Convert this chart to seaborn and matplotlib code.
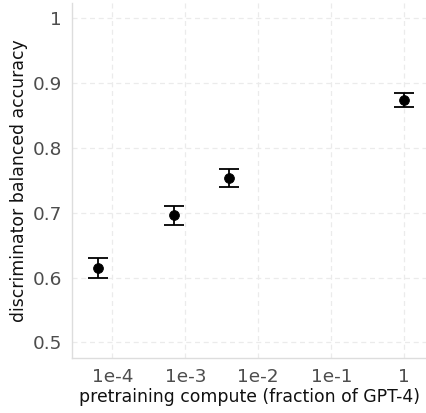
import matplotlib
matplotlib.use("Agg")
import matplotlib.pyplot as plt
import seaborn as sns
import numpy as np
import pandas as pd

compute = [6.3e-5, 7.1e-4, 4.0e-3, 1.0]
accuracy = [0.615, 0.696, 0.753, 0.874]
err_low = [0.599, 0.681, 0.739, 0.8635]
err_high = [0.630, 0.711, 0.767, 0.884]

xticks = [1e-4, 1e-3, 1e-2, 1e-1, 1]
xticklabels = ["1e-4", "1e-3", "1e-2", "1e-1", "1"]
yticks = [0.5, 0.6, 0.7, 0.8, 0.9, 1.0]
yticklabels = ["0.5", "0.6", "0.7", "0.8", "0.9", "1"]

sns.set_theme(style="whitegrid")
plt.rcParams['font.family'] = ['DejaVu Sans']

df = pd.DataFrame({"compute": compute, "accuracy": accuracy,
                   "lo": err_low, "hi": err_high})

fig = plt.figure(figsize=(4.27, 4.13), dpi=100)
ax = fig.add_axes([72.3/427, 1 - 358/413, (427 - 72.3)/427, (358 - 3.3)/413])

yerr = np.array([df["accuracy"] - df["lo"], df["hi"] - df["accuracy"]])
ax.errorbar(df["compute"], df["accuracy"], yerr=yerr, fmt="none",
            ecolor="black", elinewidth=1.3, capsize=7.5, capthick=1.3, zorder=3)
sns.scatterplot(data=df, x="compute", y="accuracy", ax=ax, color="black",
                s=50, edgecolor="black", zorder=4)

ax.set_xscale("log")
ax.set_xlim(10**-4.548, 10**0.311)
ax.set_ylim(0.476, 1.023)
ax.set_xticks(xticks)
ax.set_xticklabels(xticklabels)
ax.set_yticks(yticks)
ax.set_yticklabels(yticklabels)
ax.minorticks_off()
ax.tick_params(axis="both", labelsize=13.3, labelcolor="#4d4d4d", length=0, pad=7.5)
ax.grid(True, linestyle=(0, (4, 3)), color="#ebebeb", linewidth=0.9)
ax.set_xlabel("pretraining compute (fraction of GPT-4)", fontsize=12.4, color="#111111", labelpad=1)
ax.set_ylabel("discriminator balanced accuracy", fontsize=12.4, color="#111111", labelpad=3)
for side in ["top", "right"]:
    ax.spines[side].set_visible(False)
for side in ["left", "bottom"]:
    ax.spines[side].set_color("#dddddd")
    ax.spines[side].set_linewidth(1.0)

fig.savefig("out.png", dpi=100)
